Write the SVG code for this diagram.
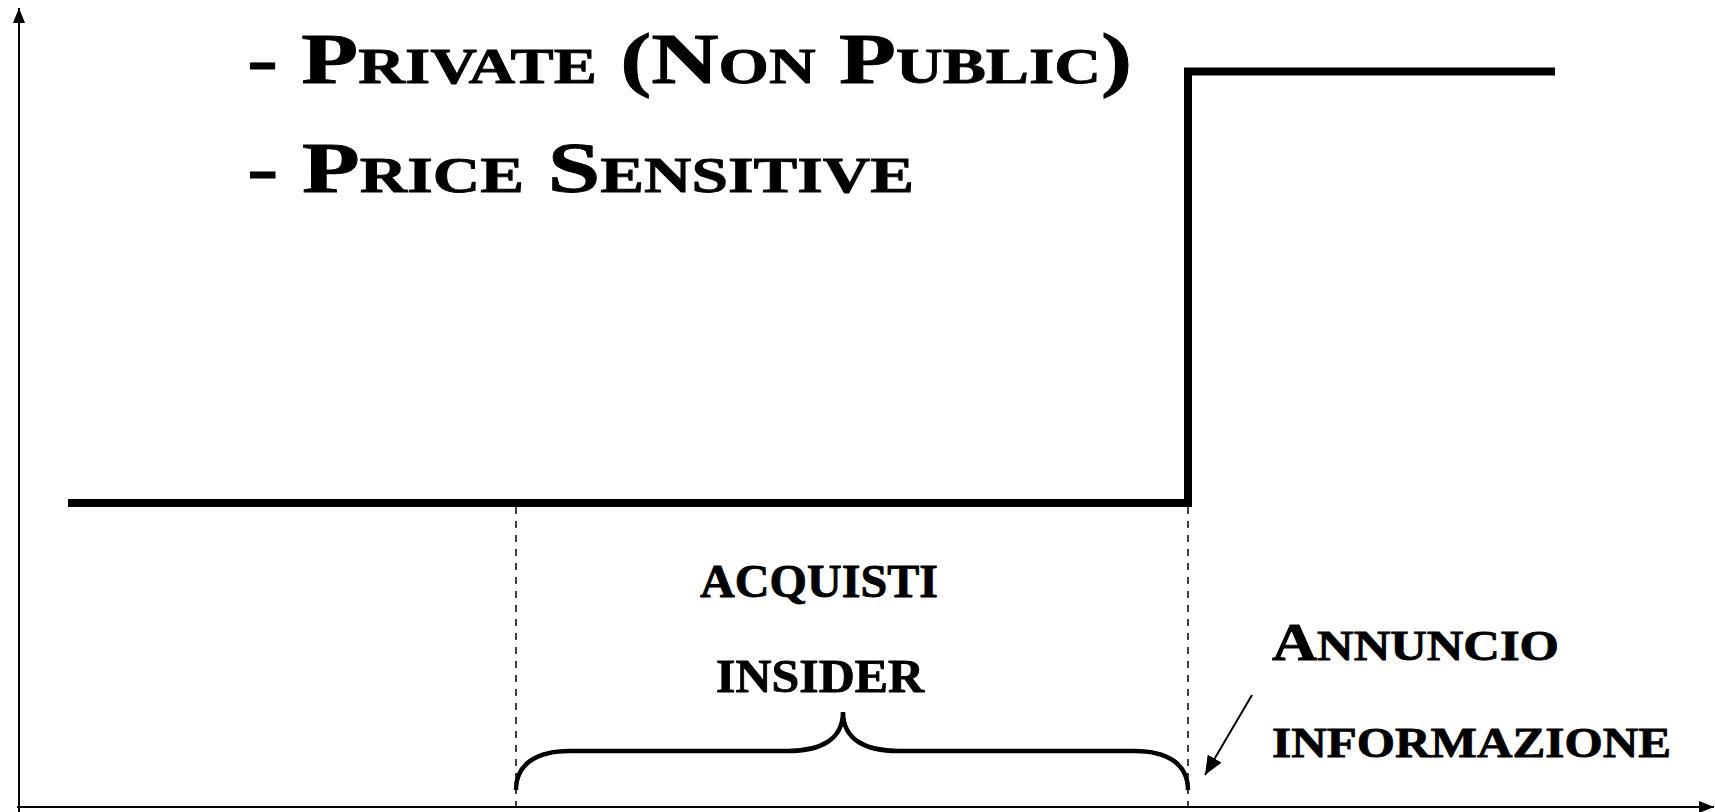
<svg xmlns="http://www.w3.org/2000/svg" width="1715" height="812" viewBox="0 0 1715 812">
<style>
  .lbl { font-family: "Liberation Serif", serif; font-weight: bold; font-variant: small-caps; fill: #000; stroke: #000; stroke-width: 0.8; }
  .axis { stroke: #000; stroke-width: 2; fill: none; }
  .thick { stroke: #000; stroke-width: 8; fill: none; }
  .dash { stroke: #000; stroke-width: 1.5; stroke-dasharray: 7 7; fill: none; }
  .brace { stroke: #000; stroke-width: 4.5; fill: none; }
  .thin { stroke: #000; stroke-width: 2; fill: none; }
</style>
<defs>
  <marker id="ah" markerWidth="16" markerHeight="12" refX="15" refY="6" orient="auto" markerUnits="userSpaceOnUse">
    <path d="M0,0 L15,6 L0,12 Z" fill="#000"/>
  </marker>
  <marker id="ah2" markerWidth="20" markerHeight="16" refX="19" refY="8" orient="auto" markerUnits="userSpaceOnUse">
    <path d="M0,0 L19,8 L0,16 Z" fill="#000"/>
  </marker>
</defs>
<rect width="1715" height="812" fill="#fff"/>
<g id="connectors">
  <line class="axis" x1="19" y1="812" x2="19" y2="8" marker-end="url(#ah)"/>
  <line class="axis" x1="17" y1="807" x2="1714" y2="807" marker-end="url(#ah)"/>
  <polyline class="thick" points="68,503 1188,503 1188,71.5 1555,71.5"/>
  <line class="dash" x1="516" y1="507" x2="516" y2="808"/>
  <line class="dash" x1="1188" y1="507" x2="1188" y2="808"/>
  <path class="brace" d="M516,790 C516,765 535,751 570,751 L788,751 C820,751 843,740 843,712 C843,740 866,751 898,751 L1134,751 C1169,751 1188,765 1188,790"/>
  <line class="thin" x1="1252" y1="695" x2="1205" y2="775" marker-end="url(#ah2)"/>
</g>
<g id="title">
  <text class="lbl" x="247" y="83" font-size="72" textLength="885" lengthAdjust="spacingAndGlyphs">- Private (Non Public)</text>
  <text class="lbl" x="247" y="192" font-size="72" textLength="667" lengthAdjust="spacingAndGlyphs">- Price Sensitive</text>
</g>
<g id="acquisti">
  <text class="lbl" x="700" y="597" font-size="67" textLength="238" lengthAdjust="spacingAndGlyphs">acquisti</text>
  <text class="lbl" x="716" y="692" font-size="67" textLength="208" lengthAdjust="spacingAndGlyphs">insider</text>
</g>
<g id="annuncio">
  <text class="lbl" x="1272" y="660" textLength="287" lengthAdjust="spacingAndGlyphs"><tspan font-size="53">A</tspan><tspan font-size="61">nnuncio</tspan></text>
  <text class="lbl" x="1272" y="757" font-size="61" textLength="399" lengthAdjust="spacingAndGlyphs">informazione</text>
</g>
</svg>
